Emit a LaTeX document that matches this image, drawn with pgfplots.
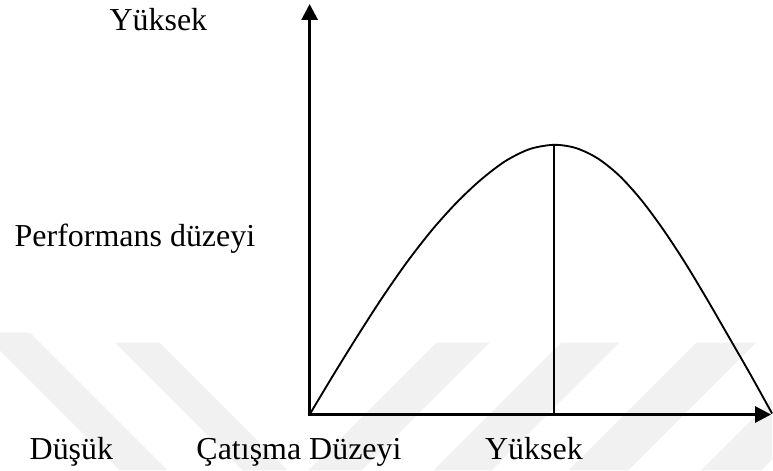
\documentclass[border=0pt]{standalone}
\usepackage{fontspec}
\setmainfont{Liberation Serif}
\usepackage{pgfplots}
\pgfplotsset{compat=1.18}
\usetikzlibrary{arrows.meta}

\definecolor{wm}{HTML}{F1F1F1}

\begin{document}
\begin{tikzpicture}
% coordinates are in pixels of the 773x471 figure, y measured downwards
\begin{axis}[
  scale only axis,
  width=579.75pt, height=353.25pt,
  xmin=0, xmax=773, ymin=0, ymax=471,
  y dir=reverse,
  hide axis, clip=false
]
% frame of the page
\addplot[draw=none] coordinates {(0,0) (773,471)};

% faint watermark stripes
\addplot[fill=wm, draw=none] coordinates {(0,333) (30,333) (168,471) (120,471) (0,351)} -- cycle;
\addplot[fill=wm, draw=none] coordinates {(115,343) (160,343) (288,471) (243,471)} -- cycle;
\addplot[fill=wm, draw=none] coordinates {(437,343) (490,343) (362,471) (309,471)} -- cycle;
\addplot[fill=wm, draw=none] coordinates {(562,343) (620,343) (492,471) (434,471)} -- cycle;
\addplot[fill=wm, draw=none] coordinates {(697,343) (757,343) (629,471) (569,471)} -- cycle;
\addplot[fill=wm, draw=none] coordinates {(773,400) (773,460) (762,471) (702,471)} -- cycle;

% axes with arrows
\addplot[line width=2.2pt, -{Triangle[length=12pt,width=12pt]}] coordinates {(310,416) (310,4)};
\addplot[line width=2.2pt, -{Triangle[length=12pt,width=12pt]}] coordinates {(309,415) (772,415)};

% performance curve
\addplot[line width=1.4pt, smooth] coordinates {
  (310,415) (334.5,374.2) (359,334.7) (383.5,296.8) (408,261.7)
  (432.5,230.3) (457,203.0) (481.5,179.9) (506,161.3) (530.5,149.2)
  (555,145) (576.8,148.3) (598.6,158.7) (620.4,176.2) (642.2,200.4)
  (664,229.8) (685.8,262.9) (707.6,299.1) (729.4,336.8) (751.2,374.7)
  (773,414)};

% vertical line at the peak
\addplot[line width=1.4pt] coordinates {(555,145) (555,415)};

\node[anchor=base west, font=\fontsize{24}{28}\selectfont] at (axis cs:105,31) {Yüksek};
\node[anchor=base west, font=\fontsize{24}{28}\selectfont] at (axis cs:10,247) {Performans düzeyi};
\node[anchor=base west, font=\fontsize{24}{28}\selectfont] at (axis cs:25,460) {Düşük};
\node[anchor=base west, font=\fontsize{24}{28}\selectfont] at (axis cs:192,460) {Çatışma Düzeyi};
\node[anchor=base west, font=\fontsize{24}{28}\selectfont] at (axis cs:481,460) {Yüksek};
\end{axis}
\end{tikzpicture}
\end{document}
